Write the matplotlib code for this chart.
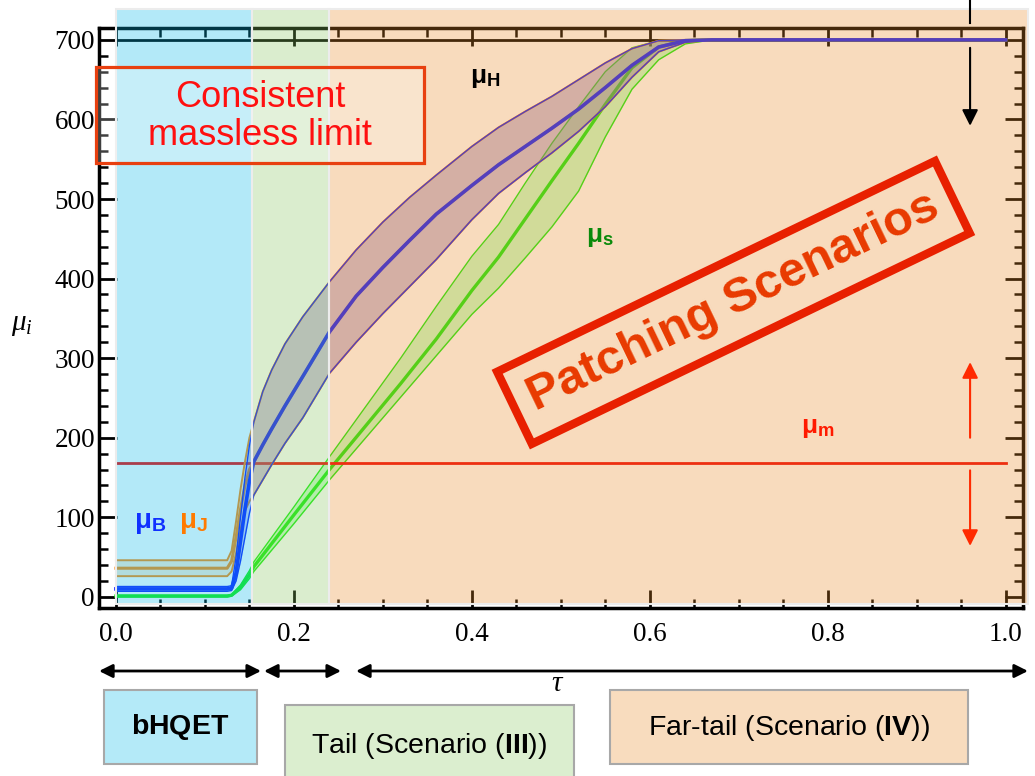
import matplotlib
matplotlib.use("Agg")
import matplotlib.pyplot as plt
from matplotlib.patches import Rectangle, FancyArrowPatch
from matplotlib.ticker import MultipleLocator, FormatStrFormatter

plt.rcParams['font.family'] = 'Liberation Serif'
plt.rcParams['mathtext.fontset'] = 'custom'
plt.rcParams['mathtext.rm'] = 'Liberation Sans'
plt.rcParams['mathtext.bf'] = 'Liberation Sans:bold'
plt.rcParams['mathtext.it'] = 'Liberation Serif:italic'

# profile scales mu_i (GeV) versus tau
tau_B = [0, 0.125, 0.13, 0.135, 0.14, 0.145, 0.15, 0.155, 0.165, 0.175, 0.19, 0.21,
         0.24, 0.27, 0.30, 0.33, 0.36, 0.40, 0.43, 0.46, 0.49, 0.52, 0.55, 0.58,
         0.61, 0.64, 0.67, 1.0]
mu_B_mid = [10, 10, 11, 30, 70, 110, 145, 170, 191, 211, 240, 277,
            333, 378, 414, 448, 481, 517, 543, 566, 589, 613, 640, 668,
            691, 699, 700, 700]
mu_B_hi = [13, 13, 14, 50, 100, 150, 190, 220, 258, 285, 318, 352,
           396, 436, 471, 502, 530, 566, 590, 610, 629, 650, 671, 689,
           699, 700, 700, 700]
mu_B_lo = [7, 7, 8, 20, 45, 75, 105, 128, 147, 166, 193, 225,
           281, 320, 356, 390, 424, 474, 507, 533, 558, 585, 616, 653,
           685, 697, 700, 700]

# mu_J: own values up to 0.155, then it sits on mu_B
tau_J_head = [0, 0.125, 0.13, 0.135, 0.14, 0.145, 0.15, 0.155]
mu_J_mid_head = [36, 36, 45, 75, 110, 140, 160, 170]
mu_J_hi_head = [46, 46, 58, 95, 135, 170, 200, 220]
mu_J_lo_head = [26, 26, 32, 55, 85, 108, 120, 128]

tau_s = [0, 0.125, 0.13, 0.14, 0.15, 0.155, 0.2, 0.24, 0.28, 0.32, 0.36, 0.40,
         0.43, 0.46, 0.49, 0.52, 0.55, 0.58, 0.61, 0.64, 0.67, 1.0]
mu_s_mid = [1, 1, 2, 12, 28, 38, 103, 160, 214, 268, 324, 385,
            427, 475, 523, 570, 619, 665, 691, 699, 700, 700]
mu_s_hi = [2, 2, 3, 15, 33, 44, 113, 176, 238, 300, 365, 428,
           468, 520, 570, 616, 660, 690, 699, 700, 700, 700]
mu_s_lo = [0, 0, 1, 9, 23, 32, 92, 147, 199, 251, 303, 355,
           388, 426, 465, 510, 578, 638, 675, 695, 700, 700]

mu_H = 700
mu_m = 168

# regions in tau
regions = [(0.0, 0.153, '#05b9e8'), (0.153, 0.240, '#87c65f'), (0.240, 1.025, '#e88a26')]

fig = plt.figure(figsize=(10.35, 7.76), dpi=100)
ax = fig.add_axes([0.0957, 0.2165, 0.8923, 0.7475])
ax.set_xlim(-0.019, 1.019)
ax.set_ylim(-14, 715)

tau_J = tau_J_head + tau_B[8:]
mu_J_mid = mu_J_mid_head + mu_B_mid[8:]
mu_J_hi = mu_J_hi_head + mu_B_hi[8:]
mu_J_lo = mu_J_lo_head + mu_B_lo[8:]

# mu_H and mu_m
ax.plot([0, 1], [mu_H, mu_H], color='black', lw=2, zorder=2)
ax.plot([0, 1], [mu_m, mu_m], color='#f00808', lw=2, zorder=2.2)

# green band
ax.fill_between(tau_s, mu_s_lo, mu_s_hi, color='#64ff6e', alpha=0.35, lw=0, zorder=2)
ax.plot(tau_s, mu_s_lo, color='#18ee12', lw=1, zorder=2.1)
ax.plot(tau_s, mu_s_hi, color='#18ee12', lw=1, zorder=2.1)
ax.plot(tau_s, mu_s_mid, color='#18ee12', lw=2.4, zorder=2.1)

# orange band
ax.fill_between(tau_J, mu_J_lo, mu_J_hi, color='#f09a3c', alpha=0.18, lw=0, zorder=2.3)
ax.plot(tau_J, mu_J_lo, color='#ff8a10', lw=1.4, zorder=2.4)
ax.plot(tau_J, mu_J_hi, color='#ff8a10', lw=1.4, zorder=2.4)
ax.plot(tau_J, mu_J_mid, color='#ff8a10', lw=2.2, zorder=2.4)

# blue band
ax.fill_between(tau_B, mu_B_lo, mu_B_hi, color='#5050dc', alpha=0.28, lw=0, zorder=2.5)
ax.plot(tau_B, mu_B_lo, color='#1420ff', lw=1, zorder=2.6)
ax.plot(tau_B, mu_B_hi, color='#1420ff', lw=1, zorder=2.6)
ax.plot(tau_B, mu_B_mid, color='#1420ff', lw=2.6, zorder=2.6)

# translucent scenario regions laid over everything
for x0, x1, c in regions:
    ax.add_patch(Rectangle((x0, -9), x1 - x0, 748, facecolor=c, alpha=0.3,
                           edgecolor='none', zorder=4, clip_on=False))
    ax.add_patch(Rectangle((x0, -9), x1 - x0, 748, facecolor='none',
                           edgecolor='#ececec', lw=1.5, zorder=4.1, clip_on=False))

# ticks
ax.xaxis.set_major_locator(MultipleLocator(0.2))
ax.xaxis.set_minor_locator(MultipleLocator(0.05))
ax.yaxis.set_major_locator(MultipleLocator(100))
ax.yaxis.set_minor_locator(MultipleLocator(20))
ax.tick_params(which='both', direction='in', top=True, right=True)
ax.tick_params(which='major', length=13, width=2, labelsize=19.5)
ax.tick_params(which='minor', length=6.5, width=1.8)
ax.tick_params(axis='x', which='major', pad=10)
ax.tick_params(axis='y', which='major', pad=3)
for s in ax.spines.values():
    s.set_linewidth(2.5)
ax.xaxis.set_major_formatter(FormatStrFormatter('%.1f'))

# labels on the curves
sans = 'Liberation Sans'
ax.text(0.415, 651, r'$\mathbf{μ}_{\mathbf{H}}$', color='black', fontsize=19,
        ha='center', va='center', zorder=6)
ax.text(0.544, 452, r'$\mathbf{μ}_{\mathbf{s}}$', color='#0a8a0a', fontsize=19,
        ha='center', va='center', zorder=6)
ax.text(0.789, 212, r'$\mathbf{μ}_{\mathbf{m}}$', color='#ff1a00', fontsize=19,
        ha='center', va='center', zorder=6)
ax.text(0.038, 92, r'$\mathbf{μ}_{\mathbf{B}}$', color='#1030ff', fontsize=20,
        ha='center', va='center', zorder=6)
ax.text(0.087, 92, r'$\mathbf{μ}_{\mathbf{J}}$', color='#ff7a00', fontsize=20,
        ha='center', va='center', zorder=6)

# consistent massless limit box
ax.add_patch(Rectangle((-0.022, 545), 0.368, 121, facecolor='white', alpha=0.25,
                       edgecolor='none', zorder=5, clip_on=False))
ax.add_patch(Rectangle((-0.022, 545), 0.368, 121, facecolor='none',
                       edgecolor='#e84010', lw=2.3, zorder=5.1, clip_on=False))
ax.text(0.162, 604, 'Consistent\nmassless limit', color='#ff1010', fontsize=26,
        family=sans, ha='center', va='center', linespacing=1.12, zorder=6)

# patching scenarios stamp
ax.text(0.694, 370, 'Patching Scenarios', color='#e83a00', fontsize=35,
        family=sans, fontweight='bold', rotation=25.7, rotation_mode='anchor',
        ha='center', va='center', zorder=6,
        bbox=dict(boxstyle='square,pad=0.36', fc='none', ec='#e82000', lw=6))

# arrows
ax.plot([0.96, 0.96], [721, 752], color='black', lw=1.5, clip_on=False, zorder=6)
ax.annotate('', xy=(0.96, 592), xytext=(0.96, 690),
            arrowprops=dict(arrowstyle='-|>', color='black', lw=1.5,
                            mutation_scale=24, shrinkA=0, shrinkB=0), zorder=6)
ax.annotate('', xy=(0.96, 295), xytext=(0.96, 200),
            arrowprops=dict(arrowstyle='-|>', color='#ff2a00', lw=1.5,
                            mutation_scale=24, shrinkA=0, shrinkB=0), zorder=6)
ax.annotate('', xy=(0.96, 64), xytext=(0.96, 159),
            arrowprops=dict(arrowstyle='-|>', color='#ff2a00', lw=1.5,
                            mutation_scale=24, shrinkA=0, shrinkB=0), zorder=6)

# axis labels
fig.text(0.021, 0.581, r'$\mu_i$', fontsize=21, ha='center', va='center')
fig.text(0.539, 0.118, r'$\tau$', fontsize=21, ha='center', va='center')

# ranges under the axis
for x0, x1 in [(0.0957, 0.2522), (0.2551, 0.3295), (0.344, 0.9932)]:
    fig.add_artist(FancyArrowPatch(
        (x0, 0.1353), (x1, 0.1353), transform=fig.transFigure,
        arrowstyle='<|-|>', mutation_scale=20, lw=2, color='black',
        shrinkA=0, shrinkB=0))

boxes = [
    (0.1005, 0.0155, 0.1478, 0.0953, '#b4eaf8', r'$\mathbf{bHQET}$', 0.0625),
    (0.2754, -0.02, 0.2792, 0.1115, '#dbeecf', r'Tail (Scenario ($\mathbf{III}$))', 0.039),
    (0.5894, 0.0155, 0.3459, 0.0953, '#f8dcbe', r'Far-tail (Scenario ($\mathbf{IV}$))', 0.0619),
]
for x, y, w, h, fc, label, ty in boxes:
    fig.add_artist(Rectangle((x, y), w, h, transform=fig.transFigure,
                             facecolor=fc, edgecolor='#a8a8a8', lw=1.5))
    fig.text(x + w / 2, ty, label, fontsize=20.5, ha='center', va='center',
             family=sans)

fig.savefig('out.png', dpi=100)
